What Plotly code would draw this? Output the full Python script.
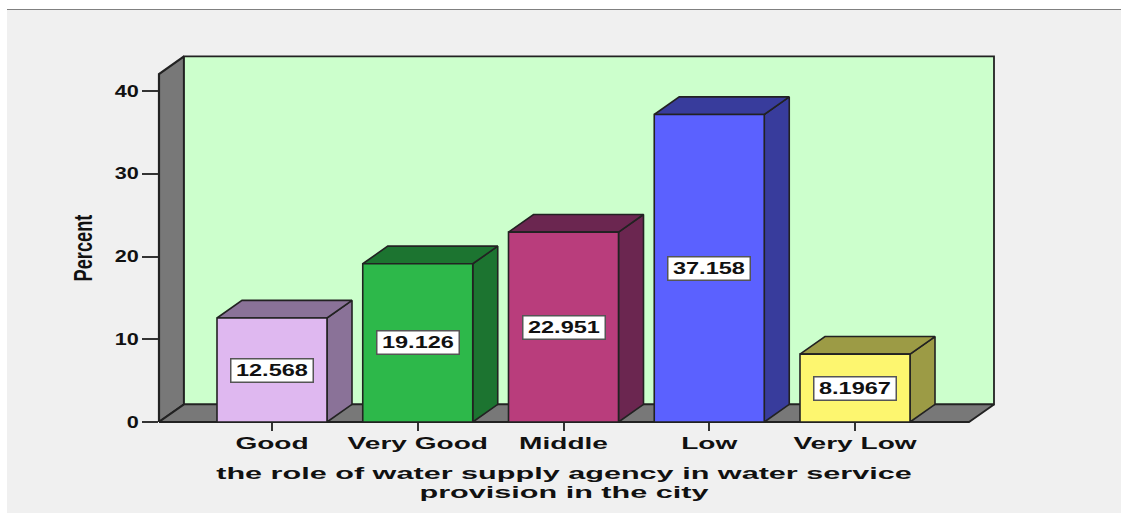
import plotly.graph_objects as go

categories = ["Good", "Very Good", "Middle", "Low", "Very Low"]
percent = [12.568, 19.126, 22.951, 37.158, 8.1967]
value_labels = ["12.568", "19.126", "22.951", "37.158", "8.1967"]
front_colors = ["#DFB8F0", "#2DB84A", "#B93D7C", "#5B61FF", "#FDF66F"]
side_colors = ["#8A7298", "#1C7430", "#6B2650", "#383C9C", "#9C9B45"]
y_ticks = [0, 10, 20, 30, 40]

WIDTH, HEIGHT = 1121, 513
L, R, T, B = 159, 969, 74, 422
X_UNIT = 145.75   # px per category
Y_UNIT = 8.275    # px per percent
X0 = 272          # px of first category
DX = 25 / X_UNIT
DY = 17.6 / Y_UNIT
HALF = 55 / X_UNIT
xmin = (L - X0) / X_UNIT
xmax = (R - X0) / X_UNIT
ymax = (B - T) / Y_UNIT
EDGE = "#222222"

fig = go.Figure()


def face(xs, ys, color, width=1.6):
    fig.add_trace(go.Scatter(
        x=xs + xs[:1], y=ys + ys[:1], mode="lines", fill="toself", fillcolor=color,
        line=dict(color=EDGE, width=width), hoverinfo="skip", showlegend=False,
        cliponaxis=False))


# chart walls
face([xmin, xmin + DX, xmin + DX, xmin], [0, DY, ymax + DY, ymax], "#787878", 2.2)
face([xmin + DX, xmax + DX, xmax + DX, xmin + DX], [DY, DY, ymax + DY, ymax + DY], "#CCFFCC", 1.8)
face([xmin, xmax, xmax + DX, xmin + DX], [0, 0, DY, DY], "#787878", 1.8)

# bars
for i, v in enumerate(percent):
    a, b = i - HALF, i + HALF
    face([b, b + DX, b + DX, b], [0, DY, v + DY, v], side_colors[i])
    face([a, b, b + DX, a + DX], [v, v, v + DY, v + DY], side_colors[i])
    face([a, b, b, a], [0, 0, v, v], front_colors[i])
    fig.add_annotation(
        x=i, y=v / 2, text=value_labels[i], showarrow=False, width=81, height=22,
        bgcolor="white", bordercolor="#555555", borderwidth=1.5, borderpad=0,
        font=dict(family="Liberation Sans", size=16, color="#111111", weight="bold"))

fig.update_layout(
    width=WIDTH, height=HEIGHT, autosize=False,
    margin=dict(l=L, r=WIDTH - R, t=T, b=HEIGHT - B),
    paper_bgcolor="#F0F0F0", plot_bgcolor="rgba(0,0,0,0)",
    font=dict(family="Liberation Sans", color="#111111"),
    showlegend=False,
    xaxis=dict(
        range=[xmin, xmax], tickmode="array", tickvals=list(range(len(categories))),
        ticktext=categories, ticks="outside", ticklen=8, tickwidth=1.5, tickcolor="#333333",
        showgrid=False, zeroline=False, showline=False, ticklabelstandoff=-2,
        tickfont=dict(size=17, weight="bold"),
        title=dict(text="the role of water supply agency in water service<br>provision in the city",
                   font=dict(size=17, weight="bold"), standoff=14)),
    yaxis=dict(
        range=[0, ymax], tickvals=y_ticks, ticks="outside", ticklen=16, tickwidth=1.5,
        tickcolor="#333333", showgrid=False, zeroline=False, showline=False,
        tickfont=dict(size=16, weight="bold"),
        title=dict(text="Percent", font=dict(size=26, weight="bold"), standoff=20)),
    shapes=[
        dict(type="rect", xref="paper", yref="paper", layer="below", line_width=0, fillcolor="white",
             x0=-L / (R - L), x1=(WIDTH - L) / (R - L), y0=(B - 9) / (B - T), y1=B / (B - T)),
        dict(type="rect", xref="paper", yref="paper", layer="below", line_width=0, fillcolor="white",
             x0=-L / (R - L), x1=(7 - L) / (R - L), y0=(B - HEIGHT) / (B - T), y1=B / (B - T)),
        dict(type="line", xref="paper", yref="paper", layer="below", line=dict(color="#808080", width=1.2),
             x0=(7 - L) / (R - L), x1=(WIDTH - L) / (R - L), y0=(B - 9.5) / (B - T), y1=(B - 9.5) / (B - T)),
    ],
)

stretch_js = """
document.body.style.margin = '0';
var gd = document.getElementById('{plot_id}');
gd.querySelectorAll('.cartesianlayer [clip-path]').forEach(function (e) { e.removeAttribute('clip-path'); });
function stretch(sel, k) {
  gd.querySelectorAll(sel).forEach(function (t) {
    var lines = t.querySelectorAll('tspan.line');
    var els = lines.length ? Array.from(lines) : [t];
    els.forEach(function (e) {
      e.setAttribute('textLength', e.getComputedTextLength() * k);
      e.setAttribute('lengthAdjust', 'spacingAndGlyphs');
    });
  });
}
stretch('.xtick text', 1.65);
stretch('.ytick text', 1.35);
stretch('.g-xtitle text', 1.8);
stretch('.g-ytitle text', 0.7);
stretch('.annotation-text', 1.47);
gd.querySelectorAll('.g-xtitle tspan.line').forEach(function (e, i) {
  if (i > 0) { e.setAttribute('y', parseFloat(e.getAttribute('y')) - 3); }
});
"""

fig.write_html("out.html", post_script=stretch_js, config={"displayModeBar": False})
